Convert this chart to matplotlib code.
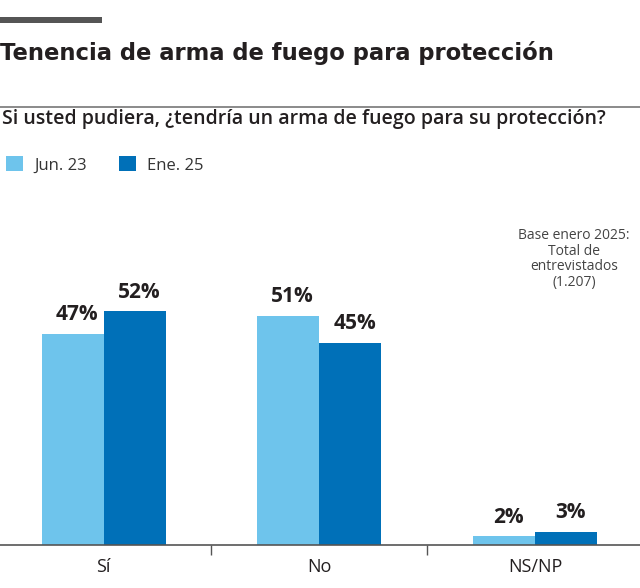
import numpy as np
import matplotlib.pyplot as plt
from matplotlib.patches import Rectangle
from matplotlib.lines import Line2D

categories = ["Sí", "No", "NS/NP"]
jun23 = [47, 51, 2]
ene25 = [52, 45, 3]
series_names = ["Jun. 23", "Ene. 25"]

light = "#6EC4EC"
dark = "#0070B8"
txt = "#231F20"

body = "Open Sans"

fig = plt.figure(figsize=(6.4, 5.88), dpi=100)
W, H = 640, 588

def fy(py):
    return 1 - py / H

# top gray strip and rule below title
fig.add_artist(Rectangle((0, fy(23)), 102 / W, 6 / H, transform=fig.transFigure,
                         color="#555555", lw=0))
fig.add_artist(Line2D([0, 1], [fy(107), fy(107)], transform=fig.transFigure,
                      color="#777777", lw=1.2))

title = fig.text(0.0, fy(53), "Tenencia de arma de fuego para protección", family="DejaVu Sans",
                 weight="bold", fontsize=20, color=txt, va="center", ha="left")
fig.text(2 / W, fy(119), "Si usted pudiera, ¿tendría un arma de fuego para su protección?",
         family=body, weight="semibold", fontsize=14, color=txt, va="center", ha="left")

# shrink title to reference width
r = fig.canvas.get_renderer()
tw = title.get_window_extent(r).width
title.set_fontsize(20 * 553 / tw)

ax = fig.add_axes([0, (H - 545) / H, 1, (545 - 230) / H])
x = np.arange(len(categories))
w = 0.287
b1 = ax.bar(x - w / 2, jun23, w, color=light, label=series_names[0])
b2 = ax.bar(x + w / 2, ene25, w, color=dark, label=series_names[1])

for bars, vals in ((b1, jun23), (b2, ene25)):
    for rect, v in zip(bars, vals):
        ax.text(rect.get_x() + rect.get_width() / 2 + 0.02, v + 1.8, f"{v}%", ha="center",
                va="bottom", fontsize=15, weight="bold", family=body, color=txt)

ax.set_xlim(-0.48, 2.486)
ax.set_ylim(0, 70)
ax.set_xticks(x)
ax.set_xticklabels(categories, family=body, fontsize=13, color=txt)
ax.set_xticks([0.5, 1.5], minor=True)
ax.tick_params(axis="x", which="major", length=0, pad=9)
ax.tick_params(axis="x", which="minor", length=7, width=1, color="#555555")
ax.set_yticks([])
for s in ["top", "left", "right"]:
    ax.spines[s].set_visible(False)
ax.spines["bottom"].set_color("#555555")
ax.spines["bottom"].set_linewidth(1.2)
ax.patch.set_visible(False)

fig.text(574 / W, fy(228), "Base enero 2025:\nTotal de\nentrevistados\n(1.207)", ha="center",
         va="top", fontsize=10, family=body, color="#444444", linespacing=1.05)

fig.legend(handles=[b1, b2], loc="center left", bbox_to_anchor=(3 / W, fy(165)), ncol=2,
           frameon=False, handlelength=1.0, handleheight=1.0, handletextpad=0.7,
           columnspacing=1.9, borderaxespad=0, borderpad=0.2,
           prop={"family": body, "size": 12})
for t in fig.legends[0].get_texts():
    t.set_color("#333333")

fig.savefig("out.png", dpi=100)
